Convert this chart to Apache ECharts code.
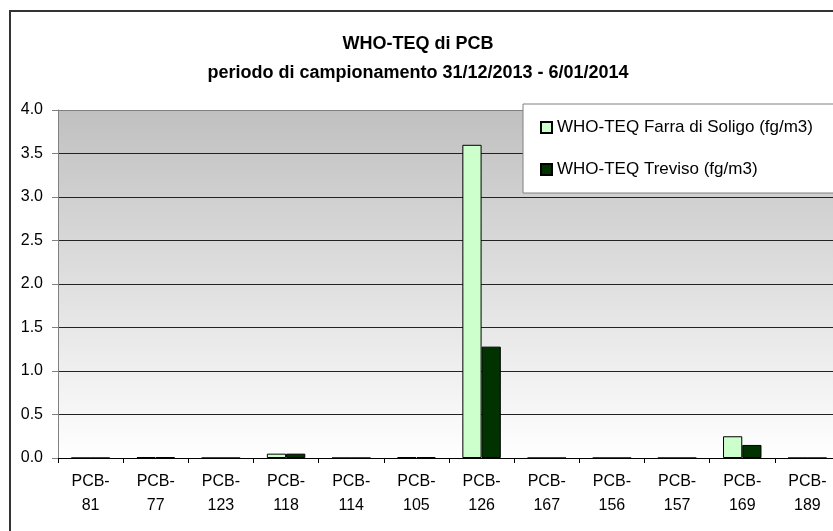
<!DOCTYPE html>
<html lang="it">
  <head>
    <meta charset="UTF-8" />
    <script src="https://cdn.jsdelivr.net/npm/echarts@6/dist/echarts.min.js"></script>
    <title>WHO-TEQ di PCB</title>
    <style>
      html, body { margin: 0; padding: 0; background: #fff; }
    </style>
  </head>
  <body>
    <div id="main" style="width: 833px; height: 531px"></div>
    <script>
      var categories = [
        "PCB-81", "PCB-77", "PCB-123", "PCB-118", "PCB-114", "PCB-105",
        "PCB-126", "PCB-167", "PCB-156", "PCB-157", "PCB-169", "PCB-189",
      ];
      var farra = [0, 0.01, 0, 0.05, 0, 0.01, 3.6, 0, 0, 0, 0.25, 0];
      var treviso = [0, 0.01, 0, 0.05, 0, 0.01, 1.28, 0, 0, 0, 0.15, 0];
      var seriesNames = [
        "WHO-TEQ Farra di Soligo (fg/m3)",
        "WHO-TEQ Treviso (fg/m3)",
      ];

      var font = "Liberation Sans, Arial, sans-serif";
      var myChart = echarts.init(document.getElementById("main"));

      // grid lines: black, the top one (4.0) gray
      var gridColors = ["#222", "#222", "#222", "#222", "#222", "#222", "#222", "#222", "#808080"];

      var option = {
        animation: false,
        textStyle: { fontFamily: font },
        title: {
          text: "WHO-TEQ di PCB\nperiodo di campionamento 31/12/2013 - 6/01/2014",
          left: 413,
          textAlign: "center",
          top: 25,
          textStyle: {
            fontFamily: font,
            fontSize: 18,
            fontWeight: "bold",
            color: "#000",
            lineHeight: 29,
          },
        },
        graphic: [
          {
            type: "rect",
            z: -10,
            shape: { x: 10, y: 11, width: 900, height: 600 },
            style: { fill: "#fff", stroke: "#333", lineWidth: 2 },
          },
        ],
        legend: {
          orient: "vertical",
          left: 523,
          top: 104,
          data: seriesNames,
          backgroundColor: "#fff",
          borderColor: "#808080",
          borderWidth: 1,
          padding: [15, 80, 15, 17],
          itemGap: 25,
          itemWidth: 11,
          itemHeight: 11,
          icon: "rect",
          textStyle: { fontFamily: font, fontSize: 17, color: "#000" },
          z: 10,
        },
        grid: {
          left: 58,
          top: 110,
          width: 782,
          height: 348,
          outerBoundsMode: "none",
          show: true,
          borderWidth: 0,
          backgroundColor: new echarts.graphic.LinearGradient(0, 0, 0, 1, [
            { offset: 0, color: "#c0c0c0" },
            { offset: 1, color: "#ffffff" },
          ]),
        },
        xAxis: {
          type: "category",
          data: categories,
          axisLine: { lineStyle: { color: "#000", width: 1 } },
          axisTick: { show: true, length: 5, lineStyle: { color: "#000" } },
          axisLabel: {
            color: "#000",
            fontSize: 16,
            lineHeight: 24,
            margin: 12,
            interval: 0,
            formatter: function (v) {
              return v.replace("-", "-\n");
            },
          },
        },
        yAxis: {
          type: "value",
          min: 0,
          max: 4,
          interval: 0.5,
          axisLine: { show: true, lineStyle: { color: "#808080" } },
          axisTick: { show: true, length: 6, lineStyle: { color: "#808080" } },
          axisLabel: {
            color: "#000",
            fontSize: 16,
            margin: 15,
            formatter: function (v) {
              return v.toFixed(1);
            },
          },
          splitLine: { show: true, lineStyle: { color: gridColors, width: 1 } },
        },
        series: [
          {
            name: seriesNames[0],
            type: "bar",
            data: farra,
            barGap: "0%",
            barCategoryGap: "41%",
            itemStyle: { color: "#ccffcc", borderColor: "#000", borderWidth: 1 },
          },
          {
            name: seriesNames[1],
            type: "bar",
            data: treviso,
            itemStyle: { color: "#003300", borderColor: "#000", borderWidth: 1 },
          },
        ],
      };

      myChart.setOption(option);
    </script>
  </body>
</html>
